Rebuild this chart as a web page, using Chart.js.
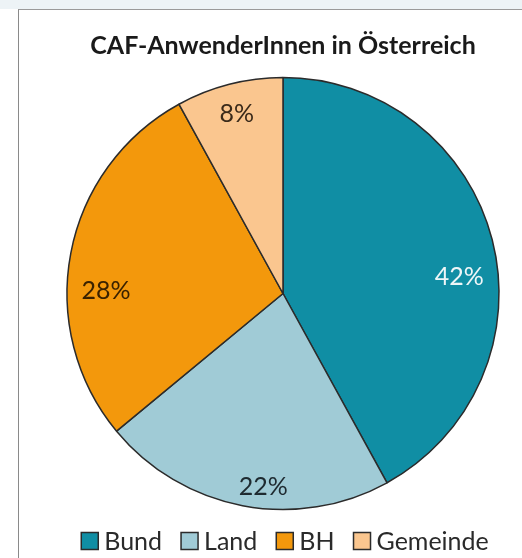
<!DOCTYPE html>
<html>
<head>
<meta charset="utf-8">
<script src="https://cdn.jsdelivr.net/npm/chart.js@4.4.1/dist/chart.umd.min.js"></script>
<style>
  html, body { margin: 0; padding: 0; background: #fff; }
  body { width: 522px; height: 558px; position: relative; overflow: hidden; }
  #topband { position: absolute; left: 0; top: 0; width: 522px; height: 9px; background: #edf3f6; }
  #frame { position: absolute; left: 18px; top: 9px; width: 504px; height: 549px;
           border-left: 1px solid #8a8a8a; border-top: 1px solid #9a9a9a; box-sizing: border-box; }
  #wrap { position: absolute; left: 19px; top: 10px; width: 503px; height: 548px; }
</style>
</head>
<body>
<div id="topband"></div>
<div id="frame"></div>
<div id="wrap"><canvas id="pieChart"></canvas></div>
<script>
var categories = ["Bund", "Land", "BH", "Gemeinde"];
var shares = [42, 22, 28, 8];
var sliceColors = ["#108ea4", "#a0cbd6", "#f3980c", "#fac68f"];
var labelColors = ["#eef6f8", "#1e2a30", "#3a2200", "#3a2a1a"];

// Excel "best fit" label spots: angle shift (deg) and distance as fraction of the radius
var labelShift = [9, -5, -10, 0];
var labelDist = [0.82, 0.9, 0.82, 0.86];

var pieLabels = {
  id: "pieLabels",
  afterDatasetsDraw: function (chart) {
    var ctx = chart.ctx;
    var meta = chart.getDatasetMeta(0);
    ctx.save();
    ctx.font = "25px Lato";
    ctx.textAlign = "center";
    ctx.textBaseline = "middle";
    meta.data.forEach(function (arc, i) {
      var p = arc.getProps(["x", "y", "startAngle", "endAngle", "outerRadius"], true);
      var mid = (p.startAngle + p.endAngle) / 2 + labelShift[i] * Math.PI / 180;
      var r = p.outerRadius * labelDist[i];
      ctx.fillStyle = labelColors[i];
      ctx.fillText(shares[i] + "%", p.x + Math.cos(mid) * r, p.y + Math.sin(mid) * r);
    });
    ctx.restore();
  }
};

// Excel style legend: tight gap between box and text
var excelLegend = {
  id: "excelLegend",
  afterDraw: function (chart) {
    var ctx = chart.ctx;
    var box = 17, gap = 6, itemGap = 19;
    ctx.save();
    ctx.font = "25px Lato";
    ctx.textBaseline = "middle";
    var widths = categories.map(function (c) { return box + gap + ctx.measureText(c).width; });
    var total = widths.reduce(function (a, b) { return a + b; }, 0) + itemGap * (categories.length - 1);
    var x = (chart.chartArea.left + chart.chartArea.right) / 2 + 2 - total / 2;
    var y = chart.height - 17;
    categories.forEach(function (c, i) {
      ctx.fillStyle = sliceColors[i];
      ctx.fillRect(x, y - box / 2, box, box);
      ctx.strokeStyle = "#2b2b2b";
      ctx.lineWidth = 1.5;
      ctx.strokeRect(x, y - box / 2, box, box);
      ctx.fillStyle = "#2a2a2a";
      ctx.fillText(c, x + box + gap, y + 1);
      x += widths[i] + itemGap;
    });
    ctx.restore();
  }
};

var ctx = document.getElementById("pieChart").getContext("2d");
var myChart = new Chart(ctx, {
  type: "pie",
  data: {
    labels: categories,
    datasets: [
      {
        data: shares,
        backgroundColor: sliceColors,
        borderColor: "#2b2b2b",
        borderWidth: 1.5,
        radius: 216,
      },
    ],
  },
  options: {
    responsive: true,
    maintainAspectRatio: false,
    animation: false,
    layout: { padding: { left: 25, bottom: 32 } },
    plugins: {
      title: {
        display: true,
        text: "CAF-AnwenderInnen in Österreich",
        color: "#1a1a1a",
        font: { family: "Lato", size: 25, weight: "bold" },
        padding: { top: 21, bottom: 0 },
      },
      legend: { display: false },
      tooltip: { enabled: false },
    },
  },
  plugins: [pieLabels, excelLegend],
});
</script>
</body>
</html>
